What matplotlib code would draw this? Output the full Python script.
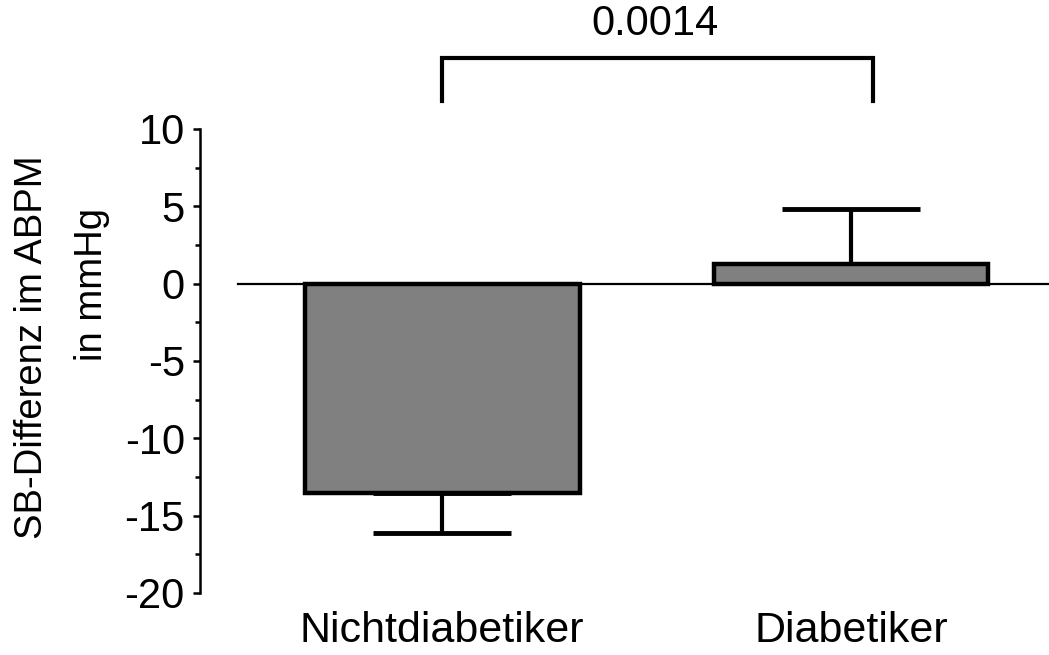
import matplotlib
matplotlib.use("Agg")
import matplotlib.pyplot as plt
from matplotlib.ticker import MultipleLocator

# Daten
groups = ["Nichtdiabetiker", "Diabetiker"]
means = [-13.55, 1.25]
err_low = [2.6, 0.0]
err_high = [0.0, 3.6]
p_value = "0.0014"

plt.rcParams['font.family'] = ['Liberation Sans', 'DejaVu Sans']
plt.rcParams['axes.unicode_minus'] = False

fig = plt.figure(figsize=(10.49, 6.55), dpi=100)
ax = fig.add_axes([0.1907, 0.0947, 0.8093, 0.7084])

x = [0, 1]
ax.bar(x, means, width=0.672, color='#808080', edgecolor='black', linewidth=3.2, zorder=2)
ax.errorbar(x, means, yerr=[err_low, err_high], fmt='none', ecolor='black',
            elinewidth=3, capsize=50, capthick=3.5, zorder=1)

# Nulllinie
ax.plot([-0.50, 1.484], [0, 0], color='black', linewidth=1.6, zorder=3, clip_on=False)

ax.set_xlim(-0.592, 1.484)
ax.set_ylim(-20, 10)

for s in ['top', 'right', 'bottom']:
    ax.spines[s].set_visible(False)
ax.spines['left'].set_linewidth(1.8)

ax.yaxis.set_major_locator(MultipleLocator(5))
ax.yaxis.set_minor_locator(MultipleLocator(2.5))
ax.tick_params(axis='y', which='major', length=5, width=1.8, labelsize=30, pad=6)
ax.tick_params(axis='y', which='minor', length=3.5, width=1.8)
ax.set_xticks(x)
ax.set_xticklabels(groups, fontsize=31)
ax.tick_params(axis='x', length=0, pad=13)

# Signifikanzklammer
ax.plot([0, 0, 1.054, 1.054], [11.8, 14.6, 14.6, 11.8], color='black', linewidth=3,
        clip_on=False, solid_joinstyle='miter')
ax.text(0.52, 15.5, p_value, ha='center', va='bottom', fontsize=30)

# y-Achsenbeschriftung
fig.text(32 / 1049, 1 - 347 / 655, "SB-Differenz im ABPM", rotation=90,
         ha='center', va='center', fontsize=27.5)
fig.text(92 / 1049, 1 - 284 / 655, "in mmHg", rotation=90,
         ha='center', va='center', fontsize=27.5)

fig.savefig("out.png", dpi=100)
